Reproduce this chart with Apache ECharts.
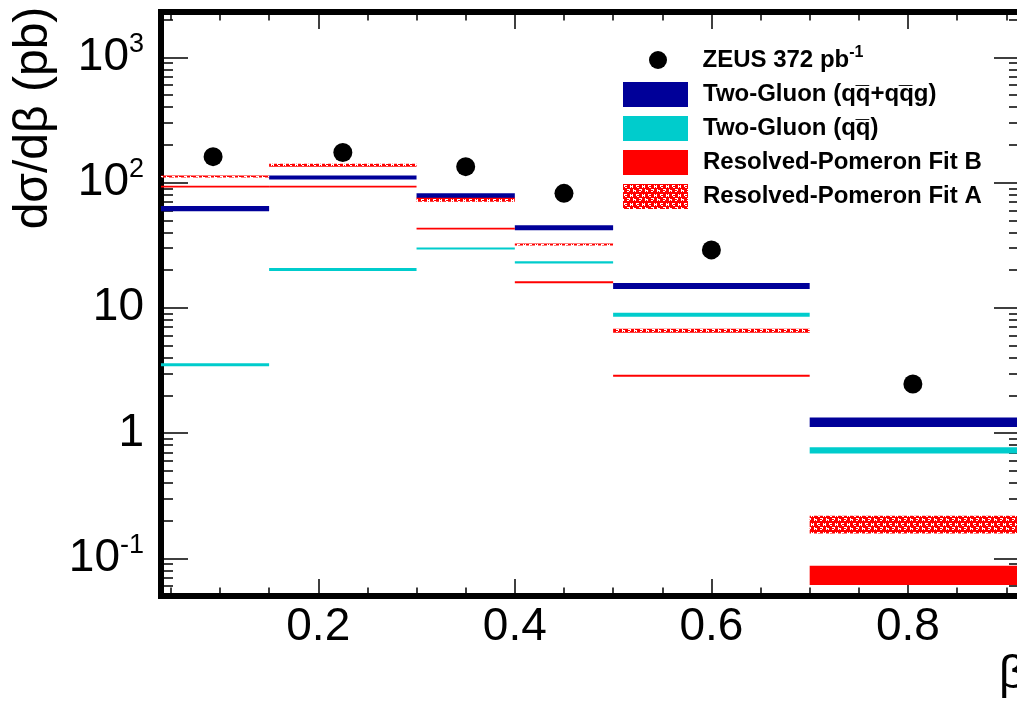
<!DOCTYPE html>
<html>
<head>
<meta charset="utf-8">
<script src="https://cdn.jsdelivr.net/npm/echarts@6/dist/echarts.min.js"></script>
<style>
  html, body { margin: 0; padding: 0; overflow: hidden; background: #fff; }
  #chart { width: 1030px; height: 703px; }
</style>
</head>
<body>
<div id="chart"></div>
<script>
// bins in beta
const binLo = [0.04, 0.15, 0.3, 0.4, 0.5, 0.7];
const binHi = [0.15, 0.3, 0.4, 0.5, 0.7, 0.95];
// ZEUS measurement
const zeusBeta = [0.093, 0.225, 0.35, 0.45, 0.6, 0.805];
const zeusXsec = [161, 174, 134, 82, 29, 2.46];
// model bands, lower and upper edge per bin (pb)
const twoGluonLo = [59, 106, 75, 41.7, 14.1, 1.12];
const twoGluonHi = [65, 114, 82, 45.7, 15.8, 1.33];
const twoGluonQqLo = [3.42, 19.7, 29.2, 22.6, 8.5, 0.686];
const twoGluonQqHi = [3.61, 20.8, 30.3, 23.5, 9.11, 0.77];
const fitBLo = [91.4, 91.4, 42.2, 15.7, 2.82, 0.0611];
const fitBHi = [94.5, 94.5, 43.6, 16.3, 2.92, 0.0872];
const fitALo = [109.6, 133.5, 70.3, 31.4, 6.33, 0.158];
const fitAHi = [113.6, 141, 75.6, 32.6, 6.81, 0.2186];
// ticks
const xMajor = [0.2, 0.4, 0.6, 0.8];
const xMinor = [0.05, 0.1, 0.15, 0.25, 0.3, 0.35, 0.45, 0.5, 0.55, 0.65, 0.7, 0.75, 0.85, 0.9];
const yMajor = [0.1, 1, 10, 100, 1000];
const yMinor = [0.06, 0.07, 0.08, 0.09, 0.2, 0.3, 0.4, 0.5, 0.6, 0.7, 0.8, 0.9,
  2, 3, 4, 5, 6, 7, 8, 9, 20, 30, 40, 50, 60, 70, 80, 90,
  200, 300, 400, 500, 600, 700, 800, 900, 2000];

const names = {
  zeus: 'ZEUS 372 pb-1',
  tg: 'Two-Gluon (qq\u0305+qq\u0305g)',
  tgq: 'Two-Gluon (qq\u0305)',
  fb: 'Resolved-Pomeron Fit B',
  fa: 'Resolved-Pomeron Fit A'
}
const FONT = '"Liberation Sans", Arial, Helvetica, sans-serif'

// hatch fill for Fit A
const hatch = document.createElement('canvas')
hatch.width = 12
hatch.height = 9
const hc = hatch.getContext('2d')
hc.fillStyle = '#ff0000'
hc.fillRect(0, 0, 12, 9)
hc.fillStyle = '#ffffff'
const whiteCells = [
  [1, 1], [2, 1], [3, 1], [7, 1], [9, 1],
  [1, 2], [7, 2], [8, 2], [9, 2],
  [2, 3], [3, 3], [7, 3], [9, 3],
  [4, 5], [5, 5], [6, 5], [10, 5],
  [6, 6], [10, 6], [11, 6], [0, 6],
  [4, 7], [5, 7], [10, 7], [0, 7]
]
whiteCells.forEach(p => hc.fillRect(p[0], p[1], 1, 1))

const chart = echarts.init(document.getElementById('chart'))

const bandSeries = (name, lo, hi, color, z) => ({
  name: name,
  type: 'custom',
  z: z,
  itemStyle: { color: color },
  encode: { x: [0, 1], y: [2, 3] },
  data: binLo.map((b, i) => [b, binHi[i], lo[i], hi[i]]),
  renderItem: (params, api) => {
    const a = api.coord([api.value(0), api.value(3)])
    const b = api.coord([api.value(1), api.value(2)])
    const cs = params.coordSys
    const x0 = Math.max(a[0], cs.x)
    const x1 = Math.min(b[0], cs.x + cs.width)
    return {
      type: 'rect',
      shape: { x: x0, y: a[1], width: x1 - x0, height: Math.max(b[1] - a[1], 1.5) },
      style: api.style()
    }
  }
})

const xBase = { type: 'value', min: 0.04, max: 0.915, gridIndex: 0, splitLine: { show: false }, axisLine: { show: false } }
const yBase = { type: 'log', logBase: 10, min: 0.05, max: 2300, gridIndex: 0, splitLine: { show: false }, axisLine: { show: false } }
const tickStyle = { color: '#000', width: 1.5 }

const yLabel = (v) => {
  const e = Math.round(Math.log10(v))
  if (e === 0) return '{b|1}'
  if (e === 1) return '{b|10}'
  return '{b|10}{s|' + e + '}'
}

const option = {
  animation: false,
  backgroundColor: '#fff',
  grid: { left: 161, top: 12, width: 860, height: 584, show: true, borderColor: '#000', borderWidth: 6, backgroundColor: 'transparent' },
  xAxis: [
    Object.assign({}, xBase, {
      position: 'bottom',
      axisTick: { inside: true, length: 17, customValues: xMajor, lineStyle: tickStyle },
      axisLabel: { customValues: xMajor, margin: 8, color: '#000', fontSize: 46, fontFamily: FONT, formatter: v => v.toFixed(1) },
      name: 'β',
      nameLocation: 'end',
      nameGap: -22,
      nameTextStyle: { color: '#000', fontSize: 46, fontFamily: FONT, align: 'left', verticalAlign: 'top', padding: [56, 0, 0, 0] }
    }),
    Object.assign({}, xBase, {
      position: 'bottom',
      axisTick: { inside: true, length: 8.5, customValues: xMinor, lineStyle: tickStyle },
      axisLabel: { show: false }
    }),
    Object.assign({}, xBase, {
      position: 'top',
      axisTick: { inside: true, length: 17, customValues: xMajor, lineStyle: tickStyle },
      axisLabel: { show: false }
    }),
    Object.assign({}, xBase, {
      position: 'top',
      axisTick: { inside: true, length: 8.5, customValues: xMinor, lineStyle: tickStyle },
      axisLabel: { show: false }
    })
  ],
  yAxis: [
    Object.assign({}, yBase, {
      position: 'left',
      axisTick: { inside: true, length: 27, customValues: yMajor, lineStyle: tickStyle },
      axisLabel: {
        customValues: yMajor, margin: 17, color: '#000', fontFamily: FONT, formatter: yLabel,
        rich: {
          b: { fontSize: 46, fontFamily: FONT, color: '#000' },
          s: { fontSize: 27, fontFamily: FONT, color: '#000', padding: [0, 0, 26, 0] }
        }
      }
    }),
    Object.assign({}, yBase, {
      position: 'left',
      axisTick: { inside: true, length: 12, customValues: yMinor, lineStyle: tickStyle },
      axisLabel: { show: false }
    }),
    Object.assign({}, yBase, {
      position: 'right',
      axisTick: { inside: true, length: 27, customValues: yMajor, lineStyle: tickStyle },
      axisLabel: { show: false }
    }),
    Object.assign({}, yBase, {
      position: 'right',
      axisTick: { inside: true, length: 12, customValues: yMinor, lineStyle: tickStyle },
      axisLabel: { show: false }
    })
  ],
  legend: [
    {
      data: [{ name: names.zeus, icon: 'circle' }],
      left: 649,
      top: 45,
      padding: 0,
      orient: 'vertical',
      itemWidth: 65,
      itemHeight: 18,
      selectedMode: false,
      formatter: () => '{a|ZEUS 372 pb}{s|-1}',
      textStyle: {
        padding: [0, 0, 0, 7],
        rich: {
          a: { fontSize: 24, fontWeight: 'bold', fontFamily: FONT, color: '#000' },
          s: { fontSize: 16, fontWeight: 'bold', fontFamily: FONT, color: '#000', padding: [0, 0, 14, 0] }
        }
      }
    },
    {
      data: [names.tg, names.tgq, names.fb, names.fa],
      left: 623,
      top: 82,
      padding: 0,
      orient: 'vertical',
      icon: 'rect',
      itemWidth: 65,
      itemHeight: 25,
      itemGap: 9,
      selectedMode: false,
      textStyle: { fontSize: 24, fontWeight: 'bold', fontFamily: FONT, color: '#000', padding: [0, 0, 0, 10] }
    }
  ],
  graphic: [
    {
      type: 'text',
      x: 34,
      y: 118,
      rotation: Math.PI / 2,
      style: { text: 'dσ/dβ (pb)', font: '48px ' + FONT, fill: '#000', align: 'center', verticalAlign: 'middle' }
    }
  ],
  series: [
    bandSeries(names.tg, twoGluonLo, twoGluonHi, '#000099', 2),
    bandSeries(names.tgq, twoGluonQqLo, twoGluonQqHi, '#00cccc', 2),
    bandSeries(names.fb, fitBLo, fitBHi, '#ff0000', 3),
    bandSeries(names.fa, fitALo, fitAHi, { image: hatch, repeat: 'repeat' }, 4),
    {
      name: names.zeus,
      type: 'scatter',
      z: 5,
      symbol: 'circle',
      symbolSize: 19,
      itemStyle: { color: '#000', opacity: 1 },
      data: zeusBeta.map((b, i) => [b, zeusXsec[i]])
    }
  ]
}
chart.setOption(option)
</script>
</body>
</html>
